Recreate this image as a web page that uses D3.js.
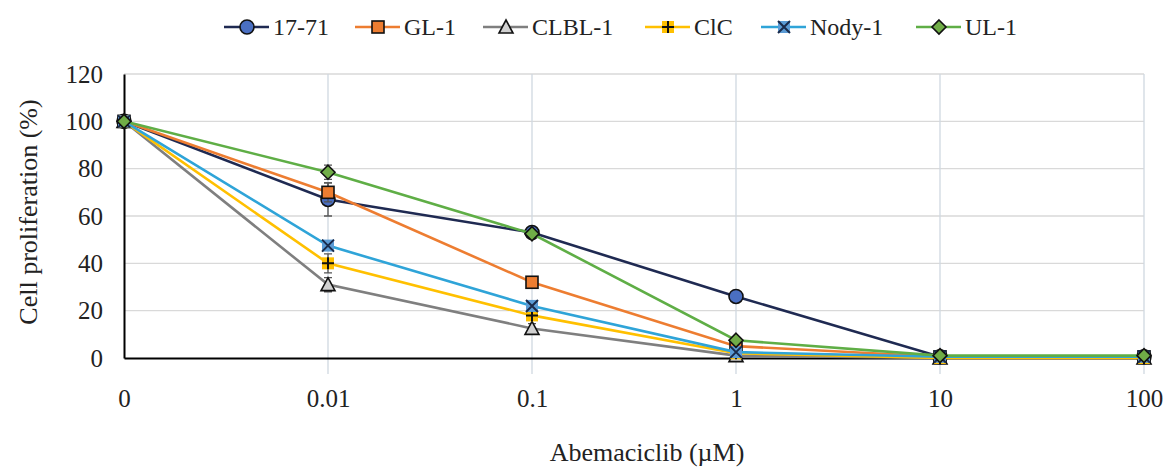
<!DOCTYPE html>
<html>
<head>
<script src="https://cdn.jsdelivr.net/npm/d3@7"></script>
<style>
  body { margin: 0; background: #fff; }
  svg text { font-family: "Liberation Serif", "Times New Roman", Times, "DejaVu Serif", serif !important; fill: #222; }
</style>
</head>
<body>
<svg width="1174" height="468"></svg>
<script>
// concentrations (categorical axis)
var doses = ["0", "0.01", "0.1", "1", "10", "100"];
var yTicks = [0, 20, 40, 60, 80, 100, 120];
var seriesNames = ["17-71", "GL-1", "CLBL-1", "ClC", "Nody-1", "UL-1"];

// values per series, in dose order
var v1771  = [100, 67, 53, 26, 0.5, 0.5];
var vGL1   = [100, 70, 32, 5, 0.5, 0.5];
var vCLBL1 = [100, 31, 12.5, 1, 0, 0];
var vClC   = [100, 40, 18, 2, 0, 0];
var vNody1 = [100, 47.5, 22, 2.5, 0.5, 0.5];
var vUL1   = [100, 78.5, 52.5, 7.5, 1, 1];

// error bars (+/-)
var e1771  = [0, 7, 1.5, 1.5, 0, 0];
var eGL1   = [0, 4, 1.5, 1, 0, 0];
var eCLBL1 = [0, 3, 2, 0.5, 0, 0];
var eClC   = [0, 4, 2, 0.5, 0, 0];
var eNody1 = [0, 2, 1.5, 0.5, 0, 0];
var eUL1   = [0, 3, 1.5, 1, 0, 0];

var values = [v1771, vGL1, vCLBL1, vClC, vNody1, vUL1];
var errors = [e1771, eGL1, eCLBL1, eClC, eNody1, eUL1];
var lineColors = ["#1f2a52", "#ed7d31", "#7f7f7f", "#ffc000", "#2fa4d8", "#5fae46"];
var markerFill = ["#4a6fc2", "#ed7d31", "#d0d0d0", "#ffc000", "#5b9bd5", "#70ad47"];
var markerType = ["circle", "square", "triangle", "plus", "x", "diamond"];

var svg = d3.select("svg");
var x = d3.scalePoint().domain(doses).range([124, 1144]);
var y = d3.scaleLinear().domain([0, 120]).range([358, 74]);

// grid
svg.append("g").selectAll("line").data(yTicks.slice(1)).enter().append("line")
  .attr("x1", 124).attr("x2", 1144)
  .attr("y1", function(d){ return y(d); }).attr("y2", function(d){ return y(d); })
  .attr("stroke", "#d9d9d9").attr("stroke-width", 1.3);
svg.append("g").selectAll("line").data(doses.slice(1)).enter().append("line")
  .attr("x1", function(d){ return x(d); }).attr("x2", function(d){ return x(d); })
  .attr("y1", y(120)).attr("y2", 374)
  .attr("stroke", "#cfd8e0").attr("stroke-width", 1.3);

// axes
var yAxis = svg.append("g").attr("transform", "translate(124,0)")
  .call(d3.axisLeft(y).tickValues(yTicks).tickSize(0).tickPadding(21));
yAxis.attr("font-family", null);
yAxis.select(".domain").attr("stroke", "#000").attr("stroke-width", 2);
yAxis.selectAll("text").style("font-size", "25px").attr("fill", "#333");

var xAxis = svg.append("g").attr("transform", "translate(0,358)")
  .call(d3.axisBottom(x).tickSize(0).tickPadding(31));
xAxis.attr("font-family", null);
xAxis.select(".domain").attr("stroke", "#000").attr("stroke-width", 2);
xAxis.selectAll("text").style("font-size", "25px").attr("fill", "#222");

svg.append("text").attr("x", 647).attr("y", 461).attr("text-anchor", "middle")
  .style("font-size", "26px").text("Abemaciclib (\u00b5M)");
svg.append("text").attr("transform", "translate(37,212) rotate(-90)")
  .attr("text-anchor", "middle").style("font-size", "26px").text("Cell proliferation (%)");

function drawMarker(g, type, cx, cy, fill) {
  if (type == "circle") {
    g.append("circle").attr("cx", cx).attr("cy", cy).attr("r", 7)
      .attr("fill", fill).attr("stroke", "#111").attr("stroke-width", 1.6);
  } else if (type == "square") {
    g.append("rect").attr("x", cx - 6).attr("y", cy - 6).attr("width", 12).attr("height", 12)
      .attr("fill", fill).attr("stroke", "#111").attr("stroke-width", 1.6);
  } else if (type == "triangle") {
    g.append("path").attr("d", "M" + cx + "," + (cy - 7) + "L" + (cx + 7) + "," + (cy + 6) + "L" + (cx - 7) + "," + (cy + 6) + "Z")
      .attr("fill", fill).attr("stroke", "#111").attr("stroke-width", 1.6);
  } else if (type == "diamond") {
    g.append("path").attr("d", "M" + cx + "," + (cy - 7) + "L" + (cx + 7) + "," + cy + "L" + cx + "," + (cy + 7) + "L" + (cx - 7) + "," + cy + "Z")
      .attr("fill", fill).attr("stroke", "#111").attr("stroke-width", 1.6);
  } else if (type == "plus") {
    g.append("rect").attr("x", cx - 6).attr("y", cy - 6).attr("width", 12).attr("height", 12).attr("fill", fill);
    g.append("path").attr("d", "M" + (cx - 6) + "," + cy + "H" + (cx + 6) + "M" + cx + "," + (cy - 6) + "V" + (cy + 6))
      .attr("stroke", "#111").attr("stroke-width", 2);
  } else if (type == "x") {
    g.append("rect").attr("x", cx - 6).attr("y", cy - 6).attr("width", 12).attr("height", 12).attr("fill", fill);
    g.append("path").attr("d", "M" + (cx - 6) + "," + (cy - 6) + "L" + (cx + 6) + "," + (cy + 6) + "M" + (cx + 6) + "," + (cy - 6) + "L" + (cx - 6) + "," + (cy + 6))
      .attr("stroke", "#1a2a4a").attr("stroke-width", 2);
  }
}

var line = d3.line().x(function(d, i){ return x(doses[i]); }).y(function(d){ return y(d); });

seriesNames.forEach(function(name, s) {
  var g = svg.append("g");
  g.append("path").datum(values[s]).attr("d", line)
    .attr("fill", "none").attr("stroke", lineColors[s]).attr("stroke-width", 2.6);
  values[s].forEach(function(v, i) {
    var e = errors[s][i];
    if (e > 0) {
      var cx = x(doses[i]);
      g.append("path").attr("d", "M" + cx + "," + y(v - e) + "V" + y(v + e) +
          "M" + (cx - 4) + "," + y(v - e) + "H" + (cx + 4) + "M" + (cx - 4) + "," + y(v + e) + "H" + (cx + 4))
        .attr("stroke", "#555").attr("stroke-width", 1.3).attr("fill", "none");
    }
    drawMarker(g, markerType[s], x(doses[i]), y(v), markerFill[s]);
  });
});

// legend
var legendX = [247, 378, 506, 668, 784, 939];
var leg = svg.append("g");
seriesNames.forEach(function(name, s) {
  var cx = legendX[s];
  leg.append("line").attr("x1", cx - 23).attr("x2", cx + 22).attr("y1", 27).attr("y2", 27)
    .attr("stroke", lineColors[s]).attr("stroke-width", 2.6);
  drawMarker(leg, markerType[s], cx, 27, markerFill[s]);
  leg.append("text").attr("x", cx + 26).attr("y", 35).style("font-size", "24px").text(name);
});
</script>
</body>
</html>
